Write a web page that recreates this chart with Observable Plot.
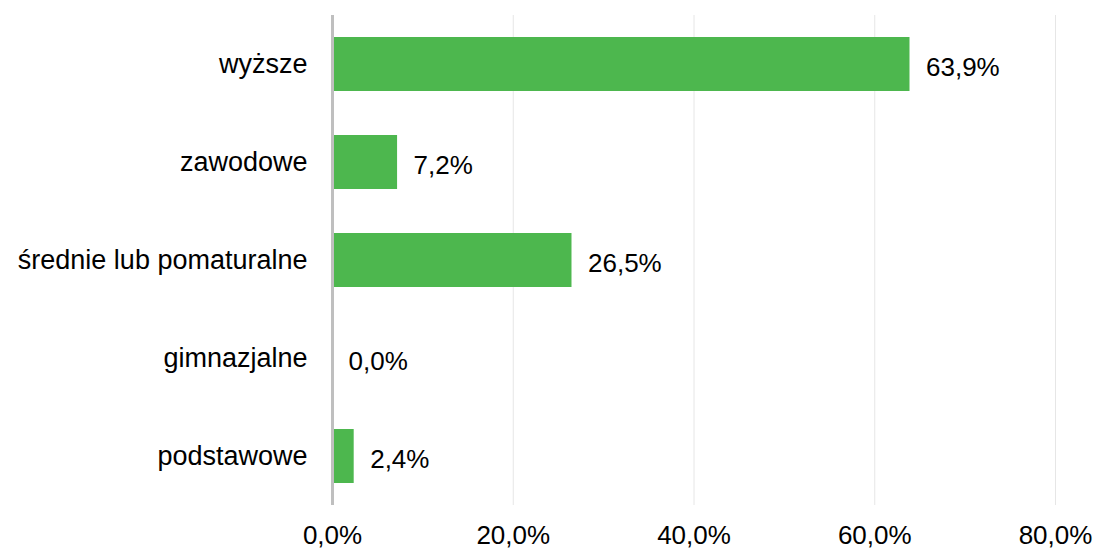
<!DOCTYPE html>
<html><head><meta charset="utf-8">
<script src="https://cdn.jsdelivr.net/npm/d3@7"></script>
<script src="https://cdn.jsdelivr.net/npm/@observablehq/plot@0.6"></script>
<style>body{margin:0;background:#fff} svg{display:block}</style>
</head><body><div id="chart"></div>
<script>
const categories = ["wyższe", "zawodowe", "średnie lub pomaturalne", "gimnazjalne", "podstawowe"];
const values = [63.9, 7.2, 26.5, 0.0, 2.4];
const xTicks = [0, 20, 40, 60, 80];

const data = categories.map((c, i) => ({category: c, value: values[i]}));
const fmt = v => v.toFixed(1).replace(".", ",") + "%";

const chart = Plot.plot({
  width: 1096, height: 549,
  marginLeft: 332, marginRight: 41, marginTop: 15, marginBottom: 44,
  style: {fontFamily: "'Liberation Sans', Arial, sans-serif", fontSize: "26px", color: "#000", background: "#fff"},
  x: {domain: [0, 80], ticks: xTicks, label: null},
  y: {domain: categories, paddingInner: 0.45, paddingOuter: 0.225, label: null},
  marks: [
    Plot.ruleX(xTicks.filter(d => d > 0), {stroke: "#e6e6e6", strokeWidth: 1}),
    Plot.barX(data, {x: "value", y: "category", fill: "#4db74e"}),
    Plot.ruleX([0], {stroke: "#bfbfbf", strokeWidth: 3}),
    Plot.text(data, {x: "value", y: "category", text: d => fmt(d.value), textAnchor: "start", dx: 16, dy: 3, fill: "#000", fontSize: 26}),
    Plot.axisX({ticks: xTicks, tickSize: 0, tickPadding: 20, tickFormat: fmt, fontSize: 26, label: null}),
    Plot.axisY({tickSize: 0, tickPadding: 25, fontSize: 27, label: null})
  ]
});
document.getElementById("chart").appendChild(chart);
</script>
</body></html>
